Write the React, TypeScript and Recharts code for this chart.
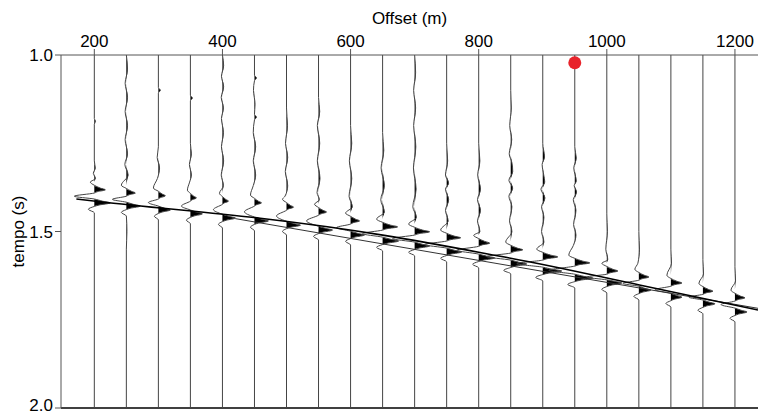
import React from 'react';
import { ComposedChart, Line, Area, Scatter, XAxis, YAxis, ReferenceLine } from 'recharts';

const OFFSETS = [200, 250, 300, 350, 400, 450, 500, 550, 600, 650, 700, 750, 800, 850, 900, 950, 1000, 1050, 1100, 1150, 1200];

// each trace: flat list of [time (s), amplitude] pairs
const TRACES: number[][] = [
  [1.0,0, 1.18,0, 1.188,0.12, 1.196,0, 1.3,0, 1.32,0.1, 1.335,-0.1, 1.35,0.12, 1.36,-0.4, 1.369,0, 1.377,0.6, 1.382,1.1, 1.387,0.33, 1.391,0, 1.4,-2.0, 1.408,0, 1.414,0.8, 1.419,1.6, 1.425,0.48, 1.429,0, 1.437,-0.6, 1.447,0, 2.0,0],
  [1.0,0, 1.04,0.12, 1.08,-0.12, 1.12,0.12, 1.16,-0.12, 1.2,0.12, 1.24,-0.12, 1.28,0.12, 1.31,-0.15, 1.34,0.18, 1.369,-0.5, 1.378,0, 1.386,0.5, 1.391,0.9, 1.396,0.27, 1.4,0, 1.409,-1.4, 1.417,0, 1.423,0.7, 1.428,1.4, 1.434,0.42, 1.438,0, 1.446,-0.5, 1.456,0, 1.5,0.06, 1.55,0, 2.0,0],
  [1.0,0, 1.092,0, 1.1,0.2, 1.108,0, 1.26,0, 1.29,-0.12, 1.32,0.12, 1.35,-0.1, 1.377,-0.5, 1.386,0, 1.394,0.38, 1.399,0.7, 1.404,0.21, 1.408,0, 1.418,-1.0, 1.428,0, 1.434,0.6, 1.439,1.2, 1.445,0.36, 1.449,0, 1.457,-0.4, 1.467,0, 2.0,0],
  [1.0,0, 1.114,0, 1.122,0.2, 1.13,0, 1.25,0, 1.28,0.1, 1.31,-0.1, 1.34,0.1, 1.36,-0.08, 1.383,-0.3, 1.392,0, 1.4,0.33, 1.405,0.6, 1.41,0.18, 1.414,0, 1.428,-0.9, 1.439,0, 1.445,0.6, 1.45,1.2, 1.456,0.36, 1.46,0, 1.468,-0.4, 1.478,0, 2.0,0],
  [1.0,0, 1.03,0.12, 1.06,-0.1, 1.09,0.12, 1.12,-0.12, 1.15,0.1, 1.18,-0.1, 1.22,0.1, 1.26,-0.1, 1.3,0.12, 1.34,-0.12, 1.37,0.1, 1.392,-0.3, 1.401,0, 1.409,0.33, 1.414,0.6, 1.419,0.18, 1.423,0, 1.438,-0.9, 1.451,0, 1.457,0.65, 1.462,1.3, 1.468,0.39, 1.472,0, 1.48,-0.4, 1.49,0, 2.0,0],
  [1.0,0, 1.057,0, 1.065,0.2, 1.073,0, 1.1,-0.1, 1.14,0.06, 1.168,0, 1.176,0.2, 1.184,0, 1.22,-0.12, 1.26,0.12, 1.3,-0.12, 1.34,0.12, 1.37,-0.12, 1.397,-0.4, 1.406,0, 1.414,0.38, 1.419,0.7, 1.424,0.21, 1.428,0, 1.444,-1.0, 1.459,0, 1.465,0.7, 1.47,1.4, 1.476,0.42, 1.48,0, 1.488,-0.4, 1.498,0, 2.0,0],
  [1.0,0, 1.15,0, 1.2,0.1, 1.25,-0.1, 1.29,0.12, 1.33,-0.12, 1.37,0.12, 1.4,-0.15, 1.409,-0.4, 1.418,0, 1.426,0.38, 1.431,0.7, 1.436,0.21, 1.44,0, 1.456,-1.0, 1.471,0, 1.477,0.7, 1.482,1.4, 1.488,0.42, 1.492,0, 1.5,-0.4, 1.51,0, 2.0,0],
  [1.0,0, 1.12,0, 1.16,0.12, 1.2,-0.12, 1.25,0.12, 1.3,-0.12, 1.35,0.15, 1.39,-0.15, 1.41,0.08, 1.423,-0.4, 1.432,0, 1.44,0.44, 1.445,0.8, 1.45,0.24, 1.454,0, 1.47,-1.2, 1.485,0, 1.491,0.7, 1.496,1.4, 1.502,0.42, 1.506,0, 1.514,-0.5, 1.524,0, 2.0,0],
  [1.0,0, 1.2,0, 1.25,0.12, 1.3,-0.12, 1.35,0.12, 1.4,-0.15, 1.43,0.18, 1.448,-0.5, 1.457,0, 1.465,0.5, 1.47,0.9, 1.475,0.27, 1.479,0, 1.489,-1.4, 1.499,0, 1.505,0.7, 1.51,1.4, 1.516,0.42, 1.52,0, 1.528,-0.5, 1.538,0, 2.0,0],
  [1.0,0, 1.22,0, 1.27,0.12, 1.32,-0.15, 1.37,0.18, 1.41,-0.18, 1.445,0.18, 1.465,-0.6, 1.474,0, 1.482,0.8, 1.487,1.5, 1.492,0.45, 1.496,0, 1.506,-2.0, 1.516,0, 1.522,0.8, 1.527,1.6, 1.533,0.48, 1.537,0, 1.545,-0.6, 1.555,0, 2.0,0],
  [1.0,0, 1.05,0.1, 1.1,-0.1, 1.15,0.1, 1.2,-0.1, 1.26,0.12, 1.32,-0.12, 1.38,0.15, 1.43,-0.18, 1.46,0.18, 1.479,-0.6, 1.488,0, 1.496,0.8, 1.501,1.5, 1.506,0.45, 1.51,0, 1.52,-2.2, 1.53,0, 1.536,0.75, 1.541,1.5, 1.547,0.45, 1.551,0, 1.559,-0.6, 1.569,0, 2.0,0],
  [1.0,0, 1.25,0, 1.3,0.1, 1.34,-0.12, 1.363,0.2, 1.38,-0.12, 1.41,0.2, 1.44,-0.12, 1.47,0.15, 1.496,-0.6, 1.505,0, 1.513,0.75, 1.518,1.4, 1.523,0.42, 1.527,0, 1.537,-2.2, 1.547,0, 1.553,0.75, 1.558,1.5, 1.564,0.45, 1.568,0, 1.576,-0.6, 1.586,0, 2.0,0],
  [1.0,0, 1.25,0, 1.3,0.12, 1.34,-0.1, 1.38,0.18, 1.41,-0.12, 1.44,0.18, 1.47,-0.12, 1.5,0.12, 1.511,-0.5, 1.52,0, 1.528,0.6, 1.533,1.1, 1.538,0.33, 1.542,0, 1.553,-2.2, 1.564,0, 1.57,0.8, 1.575,1.6, 1.581,0.48, 1.585,0, 1.593,-0.6, 1.603,0, 2.0,0],
  [1.0,0, 1.1,0, 1.15,0.06, 1.2,-0.1, 1.24,0.1, 1.28,-0.15, 1.305,0.12, 1.33,0.2, 1.355,-0.18, 1.377,0.2, 1.4,-0.18, 1.43,0.12, 1.47,-0.12, 1.5,0.12, 1.53,-0.5, 1.539,0, 1.547,0.65, 1.552,1.2, 1.557,0.36, 1.561,0, 1.571,-2.4, 1.581,0, 1.587,0.8, 1.592,1.6, 1.598,0.48, 1.602,0, 1.61,-0.7, 1.62,0, 2.0,0],
  [1.0,0, 1.25,0, 1.289,0.18, 1.31,-0.06, 1.34,0.1, 1.36,0.2, 1.38,-0.18, 1.405,0.22, 1.43,-0.12, 1.46,0.12, 1.5,-0.12, 1.53,0.12, 1.55,-0.6, 1.559,0, 1.567,0.8, 1.572,1.5, 1.577,0.45, 1.581,0, 1.591,-2.6, 1.601,0, 1.607,0.95, 1.612,1.9, 1.618,0.57, 1.622,0, 1.63,-0.7, 1.64,0, 2.0,0],
  [1.0,0, 1.26,0, 1.292,0.15, 1.32,-0.1, 1.357,0.15, 1.37,-0.06, 1.388,0.18, 1.41,-0.15, 1.44,0.12, 1.48,-0.12, 1.51,0.12, 1.54,-0.15, 1.567,-0.6, 1.576,0, 1.584,0.8, 1.589,1.5, 1.594,0.45, 1.598,0, 1.61,-2.6, 1.621,0, 1.627,0.9, 1.632,1.8, 1.638,0.54, 1.642,0, 1.65,-0.7, 1.66,0, 2.0,0],
  [1.0,0, 1.45,0, 1.5,0.06, 1.55,-0.1, 1.58,0.1, 1.59,-0.5, 1.599,0, 1.607,0.6, 1.612,1.1, 1.617,0.33, 1.621,0, 1.629,-2.0, 1.637,0, 1.641,0.75, 1.646,1.5, 1.652,0.45, 1.656,0, 1.664,-0.5, 1.674,0, 2.0,0],
  [1.0,0, 1.5,0, 1.55,0.06, 1.59,-0.1, 1.607,-0.4, 1.616,0, 1.624,0.55, 1.629,1.0, 1.634,0.3, 1.638,0, 1.647,-1.6, 1.655,0, 1.661,0.6, 1.666,1.2, 1.672,0.36, 1.676,0, 1.684,-0.5, 1.694,0, 2.0,0],
  [1.0,0, 1.55,0, 1.59,0.06, 1.624,-0.4, 1.633,0, 1.641,0.6, 1.646,1.1, 1.651,0.33, 1.655,0, 1.665,-1.6, 1.675,0, 1.681,0.55, 1.686,1.1, 1.692,0.33, 1.696,0, 1.704,-0.5, 1.714,0, 2.0,0],
  [1.0,0, 1.58,0, 1.62,0.06, 1.647,-0.4, 1.656,0, 1.664,0.55, 1.669,1.0, 1.674,0.3, 1.678,0, 1.686,-1.4, 1.694,0, 1.7,0.6, 1.705,1.2, 1.711,0.36, 1.715,0, 1.723,-0.5, 1.733,0, 2.0,0],
  [1.0,0, 1.6,0, 1.64,0.06, 1.666,-0.4, 1.675,0, 1.683,0.55, 1.688,1.0, 1.693,0.3, 1.697,0, 1.707,-1.4, 1.717,0, 1.723,0.6, 1.728,1.2, 1.734,0.36, 1.738,0, 1.746,-0.5, 1.756,0, 2.0,0],
];

// curved pick (black)
const PICK_OFFSETS = [172, 209, 459, 848, 1051, 1236];
const PICK_TIMES = [1.408, 1.4156, 1.4626, 1.575, 1.6516, 1.7224];

// straight pick (grey)
const LINEAR_OFFSETS = [420, 1236];
const LINEAR_TIMES = [1.4635, 1.7176];

const SHOT_OFFSET = [950];
const SHOT_TIME = [1.022];

const X_TICKS = [200, 400, 600, 800, 1000, 1200];
const Y_TICKS = [1.0, 1.5, 2.0];

const GAIN = 15.6; // display gain: amplitude unit -> metres on the offset axis

function buildRows(offset: number, flat: number[]) {
  const rows: { t: number; x: number; f: number }[] = [];
  for (let i = 0; i < flat.length; i += 2) {
    const t = flat[i];
    const a = flat[i + 1];
    rows.push({ t, x: offset + a * GAIN, f: offset + Math.max(a, 0) * GAIN });
  }
  return rows;
}

const traceRows = OFFSETS.map((o, i) => buildRows(o, TRACES[i]));
const pickRows = PICK_OFFSETS.map((x, i) => ({ x, t: PICK_TIMES[i] }));
const linearRows = LINEAR_OFFSETS.map((x, i) => ({ x, t: LINEAR_TIMES[i] }));
const shotRows = SHOT_OFFSET.map((x, i) => ({ x, t: SHOT_TIME[i] }));

const FONT = "'Liberation Sans', Arial, Helvetica, sans-serif";

export default function App() {
  return (
    <div style={{ fontFamily: FONT, width: 750, height: 407, position: 'absolute', left: 8, top: 8 }}>
      <ComposedChart
        width={750}
        height={407}
        layout="vertical"
        margin={{ top: 0, right: 0, bottom: 7, left: 0 }}
      >
        <XAxis
          type="number"
          dataKey="x"
          orientation="top"
          domain={[148, 1236]}
          allowDataOverflow
          ticks={X_TICKS}
          height={47}
          tickSize={6}
          tickMargin={2}
          stroke="#555"
          tick={{ fill: '#000', fontSize: 17, fontFamily: FONT }}
          label={{ value: 'Offset (m)', position: 'insideTop', offset: 4, fill: '#000', fontSize: 17, fontFamily: FONT }}
        />
        <YAxis
          type="number"
          dataKey="t"
          domain={[1, 2]}
          allowDataOverflow
          ticks={Y_TICKS}
          tickFormatter={(v: number) => v.toFixed(1)}
          width={53}
          tickSize={6}
          tickMargin={2}
          stroke="#555"
          tick={{ fill: '#000', fontSize: 17, fontFamily: FONT }}
          label={{ value: 'tempo (s)', angle: -90, position: 'insideLeft', offset: 10, fill: '#000', fontSize: 17, fontFamily: FONT, style: { textAnchor: 'middle' } }}
        />
        <ReferenceLine y={2} stroke="#000" strokeWidth={1.5} />
        {traceRows.map((rows, i) => (
          <Area
            key={'f' + i}
            data={rows}
            dataKey="f"
            baseValue={OFFSETS[i]}
            type="monotone"
            stroke="none"
            fill="#000"
            fillOpacity={1}
            isAnimationActive={false}
          />
        ))}
        {traceRows.map((rows, i) => (
          <Line
            key={'w' + i}
            data={rows}
            dataKey="x"
            type="monotone"
            stroke="#444"
            strokeWidth={1}
            dot={false}
            activeDot={false}
            isAnimationActive={false}
          />
        ))}
        <Line
          data={linearRows}
          dataKey="x"
          type="linear"
          stroke="#333"
          strokeWidth={1}
          dot={false}
          activeDot={false}
          isAnimationActive={false}
        />
        <Line
          data={pickRows}
          dataKey="x"
          type="monotone"
          stroke="#000"
          strokeWidth={1.6}
          dot={false}
          activeDot={false}
          isAnimationActive={false}
        />
        <Scatter
          data={shotRows}
          fill="#e8232b"
          isAnimationActive={false}
          shape={(p: any) => <circle cx={p.cx} cy={p.cy} r={6.5} fill="#e8232b" />}
        />
      </ComposedChart>
    </div>
  );
}
